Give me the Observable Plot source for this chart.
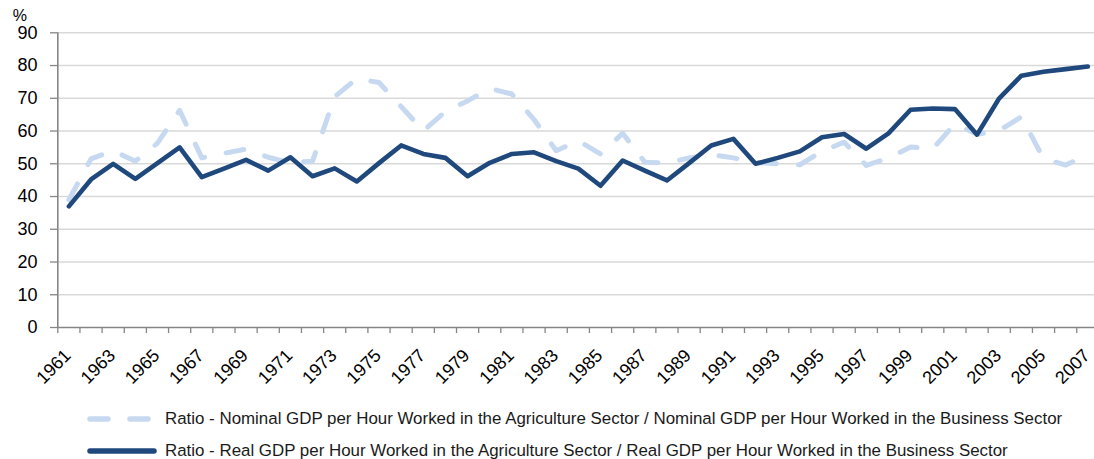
<!DOCTYPE html>
<html>
<head>
<meta charset="utf-8">
<script src="https://cdn.jsdelivr.net/npm/d3@7"></script>
<script src="https://cdn.jsdelivr.net/npm/@observablehq/plot@0.6"></script>
<style>
  html, body { margin: 0; padding: 0; background: #fff; overflow: hidden; }
  body { width: 1094px; height: 459px; font-family: "Liberation Sans", Arial, sans-serif; }
  #legend { margin-top: 3px; padding-left: 87px; font-size: 16.9px; color: #1a1a1a; }
  .row { height: 32px; display: flex; align-items: center; white-space: nowrap; }
  .row svg { margin-right: 8px; flex: none; }
</style>
</head>
<body>
<div id="chart"></div>
<div id="legend"></div>
<script>
const years = [1961,1962,1963,1964,1965,1966,1967,1968,1969,1970,1971,1972,1973,1974,1975,1976,1977,1978,1979,1980,1981,1982,1983,1984,1985,1986,1987,1988,1989,1990,1991,1992,1993,1994,1995,1996,1997,1998,1999,2000,2001,2002,2003,2004,2005,2006,2007];

const nominalRatio = [39.0,51.5,54.0,50.8,56.3,66.3,51.8,53.2,54.5,52.0,50.3,50.8,70.5,76.0,74.8,67.5,60.0,66.0,69.2,73.0,71.3,63.5,54.0,57.0,53.0,59.3,50.5,50.2,51.8,52.8,51.8,50.4,50.0,49.7,53.8,56.6,49.5,51.8,55.1,54.6,62.2,59.0,60.2,64.3,51.6,49.6,52.8];

const realRatio = [37.0,45.2,50.0,45.4,50.2,55.0,45.9,48.5,51.2,47.9,52.0,46.2,48.6,44.6,50.2,55.6,53.0,51.8,46.2,50.3,53.0,53.5,50.8,48.5,43.3,51.0,47.9,44.9,50.2,55.6,57.6,50.0,51.8,53.8,58.1,59.1,54.6,59.3,66.5,66.9,66.7,58.9,70.0,76.9,78.1,78.9,79.7];

const yTicks = [0,10,20,30,40,50,60,70,80,90];
const xLabelYears = years.filter((y, i) => i % 2 === 0);
const boundaries = years.map(y => y - 0.5).concat([years[years.length - 1] + 0.5]);

const seriesNames = [
  "Ratio - Nominal GDP per Hour Worked in the Agriculture Sector / Nominal GDP per Hour Worked in the Business Sector",
  "Ratio - Real GDP per Hour Worked in the Agriculture Sector / Real GDP per Hour Worked in the Business Sector"
];

const nominalData = years.map((y, i) => ({year: y, value: nominalRatio[i]}));
const realData = years.map((y, i) => ({year: y, value: realRatio[i]}));

const lightBlue = "#c6d9f1";
const darkBlue = "#1f497d";
const axisGray = "#868686";
const gridGray = "#d9d9d9";

const chart = Plot.plot({
  width: 1094,
  height: 400,
  marginLeft: 57,
  marginRight: 0,
  marginTop: 32,
  marginBottom: 73,
  style: {fontFamily: "Liberation Sans, Arial, sans-serif", fontSize: "18px", background: "white", color: "#000", overflow: "hidden"},
  x: {type: "linear", domain: [1960.5, 2007.5], range: [57.3, 1098.4]},
  y: {domain: [0, 90], range: [327, 32.3]},
  marks: [
    Plot.ruleY(yTicks.filter(d => d > 0), {stroke: gridGray, strokeWidth: 1.6}),
    Plot.axisX({ticks: boundaries, tickSize: 6, tickFormat: () => "", stroke: axisGray, strokeWidth: 1.3, label: null}),
    Plot.axisY({ticks: yTicks, tickSize: 7, tickPadding: 13, stroke: axisGray, strokeWidth: 1.3, fontSize: 18, fill: "#000", label: null}),
    Plot.ruleY([0], {stroke: axisGray, strokeWidth: 1.6}),
    Plot.ruleX([1960.5], {y1: 0, y2: 90, stroke: axisGray, strokeWidth: 1.6}),
    Plot.text(xLabelYears, {x: d => d, y: 0, text: d => String(d), rotate: -45, textAnchor: "end", lineAnchor: "middle", dx: -1, dy: 25, fontSize: 18, fill: "#000"}),
    Plot.text(["%"], {x: 1960.5, y: 90, text: d => d, dx: -38, dy: -17, fontSize: 16, fill: "#000"}),
    Plot.lineY(nominalData, {x: "year", y: "value", stroke: lightBlue, strokeWidth: 5, strokeDasharray: "18,22", strokeLinecap: "round", strokeLinejoin: "round"}),
    Plot.lineY(realData, {x: "year", y: "value", stroke: darkBlue, strokeWidth: 4.6, strokeLinejoin: "round", strokeLinecap: "round"})
  ]
});
document.getElementById("chart").appendChild(chart);

const legend = document.getElementById("legend");
const swatches = [
  `<svg width="70" height="10"><line x1="3" y1="5" x2="67" y2="5" stroke="${lightBlue}" stroke-width="5.5" stroke-dasharray="18,22" stroke-linecap="round"/></svg>`,
  `<svg width="70" height="10"><line x1="3" y1="5" x2="67" y2="5" stroke="${darkBlue}" stroke-width="5.5" stroke-linecap="round"/></svg>`
];
seriesNames.forEach((name, i) => {
  const row = document.createElement("div");
  row.className = "row";
  row.innerHTML = swatches[i] + `<span>${name}</span>`;
  legend.appendChild(row);
});
</script>
</body>
</html>
